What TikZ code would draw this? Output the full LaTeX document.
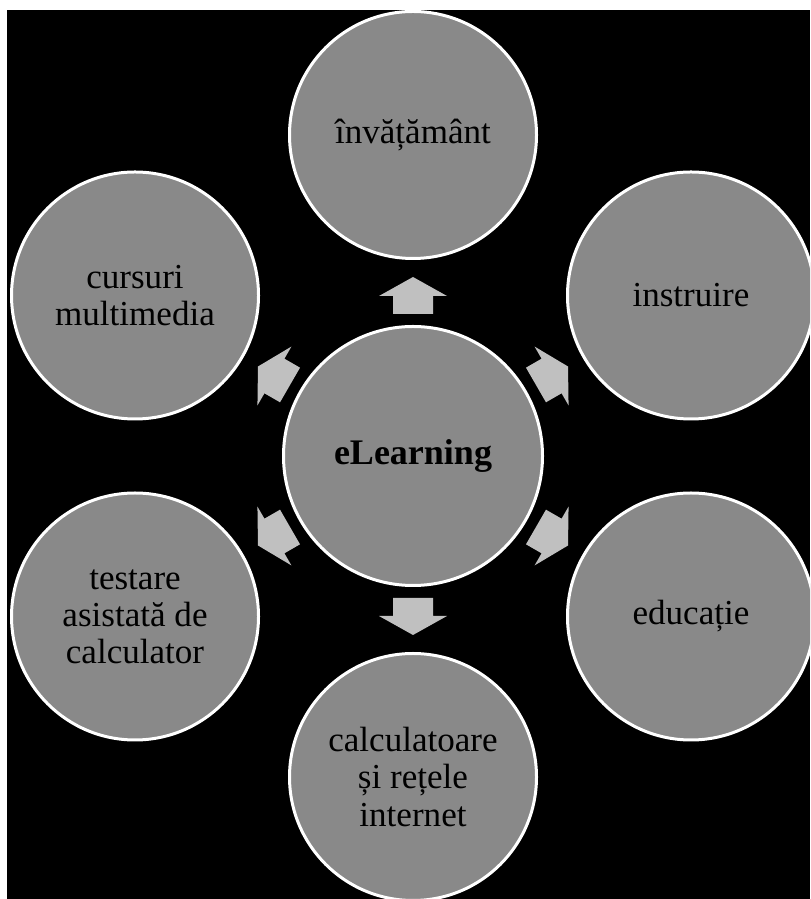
\documentclass[tikz,border=0pt]{standalone}
\usepackage{fontspec}
\setmainfont{Liberation Serif}
\definecolor{bubblefill}{RGB}{137,137,137}
\definecolor{arrowfill}{RGB}{192,192,192}
\begin{document}
\begin{tikzpicture}[x=0.75pt,y=0.75pt,
  bubble/.style={circle, draw=white, line width=2.25pt, fill=bubblefill,
    minimum size=185.25pt, inner sep=0pt, align=center, text=black,
    font=\fontsize{26.3}{27.8}\selectfont},
  hubstyle/.style={bubble, minimum size=194.25pt,
    font=\fontsize{27}{28}\selectfont\bfseries},
  blockarrow/.style={fill=arrowfill, draw=none}]
  % page and dark panel
  \clip (0,0) rectangle (810,899);
  \fill[white] (0,0) rectangle (810,899);
  \fill[black] (7,0) rectangle (810,889);

  % central topic
  \node[hubstyle] (hub) at (413,443) {eLearning};

  % surrounding topics
  \path (hub.center) ++(90:321)  node[bubble] (t1) {învățământ};
  \path (hub.center) ++(30:321)  node[bubble] (t2) {instruire};
  \path (hub.center) ++(-30:321) node[bubble] (t3) {educație};
  \path (hub.center) ++(-90:321) node[bubble] (t4) {calculatoare\\și rețele\\internet};
  \path (hub.center) ++(-150:321) node[bubble] (t5) {testare\\asistată de\\calculator};
  \path (hub.center) ++(150:321) node[bubble] (t6) {cursuri\\multimedia};

  % block arrows radiating from the hub
  \foreach \a in {90,30,-30,-90,-150,150}{
    \fill[blockarrow, shift={(hub.center)}, rotate=\a]
      (179,0) -- (160,34) -- (160,20) -- (142,20) -- (142,-20)
      -- (160,-20) -- (160,-34) -- cycle;
  }
\end{tikzpicture}
\end{document}
